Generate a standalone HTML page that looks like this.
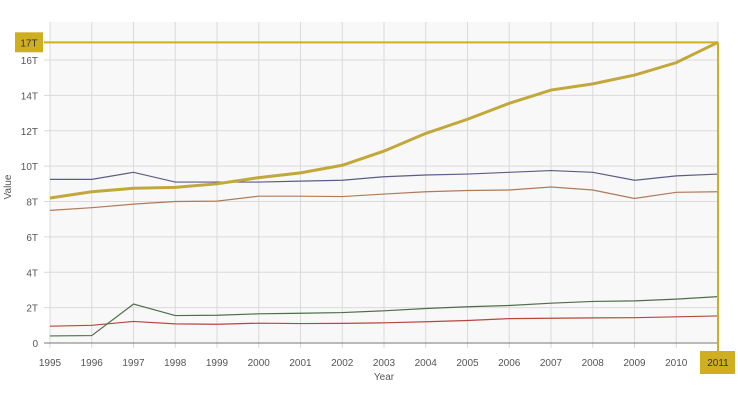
<!DOCTYPE html>
<html><head><meta charset="utf-8"><style>
body{margin:0;background:#fff;font-family:"Liberation Sans",sans-serif}
svg text{font-family:"Liberation Sans",sans-serif;fill:#555;font-size:10px}
</style></head><body>
<svg width="738" height="407">
<g id="g"></g>
</svg>
<script>
const years=[1995,1996,1997,1998,1999,2000,2001,2002,2003,2004,2005,2006,2007,2008,2009,2010,2011];
const yTicks=[0,2,4,6,8,10,12,14,16];
const gold=[8.2,8.55,8.75,8.8,9.0,9.35,9.62,10.05,10.85,11.85,12.65,13.55,14.3,14.65,15.15,15.85,17.0];
const blue=[9.25,9.25,9.65,9.1,9.1,9.1,9.15,9.2,9.4,9.5,9.55,9.65,9.75,9.65,9.2,9.45,9.55];
const brown=[7.5,7.65,7.85,8.0,8.02,8.3,8.3,8.28,8.42,8.55,8.62,8.65,8.82,8.65,8.17,8.52,8.55];
const green=[0.4,0.42,2.2,1.55,1.57,1.65,1.68,1.72,1.82,1.95,2.05,2.12,2.25,2.35,2.38,2.48,2.62];
const red=[0.95,1.0,1.22,1.08,1.06,1.12,1.1,1.11,1.14,1.2,1.27,1.38,1.4,1.42,1.43,1.48,1.53];
const highlightValue=17, highlightYear=2011;
const X0=50,X1=718,Y0=343,Y16=60;
const x=i=>X0+(X1-X0)*i/(years.length-1);
const y=v=>Y0+(Y16-Y0)*v/16;
const g=document.getElementById('g');
const NS='http://www.w3.org/2000/svg';
function mk(t,a,txt){const e=document.createElementNS(NS,t);for(const k in a)e.setAttribute(k,a[k]);if(txt!=null)e.textContent=txt;g.appendChild(e);return e;}
let e=mk('rect',{x:X0,y:22,width:X1-X0,height:Y0-22,fill:'#f8f8f8'});


years.forEach((yr,i)=>{
 e=mk('line',{x1:x(i),x2:x(i),y1:22,y2:Y0+5,stroke:'#dadada'});
 
 
 e=mk('text',{x:x(i),y:366,'text-anchor':'middle'},yr);
 
 
});
yTicks.forEach(v=>{
 e=mk('line',{x1:X0-6,x2:X1,y1:y(v),y2:y(v),stroke:v==0?'#777':'#dadada'});
 
 
 e=mk('text',{x:38,y:y(v)+4,'text-anchor':'end'},v==0?'0':v+'T');
 
 
});
e=mk('text',{x:384,y:380,'text-anchor':'middle','font-size':'11'},'Year');


e=mk('text',{x:11,y:187,'text-anchor':'middle','font-size':'11',transform:'rotate(-90 11 187)'},'Value');


function line(d,c,w,n){const p=d.map((v,i)=>(i?'L':'M')+x(i)+','+y(v)).join('');
 const el=mk('path',{d:p,fill:'none',stroke:c,'stroke-width':w});
 
 }
line(red,'#b5493c',1.2,'series-red');
line(green,'#4e6e4a',1.2,'series-green');
line(brown,'#b07a57',1.2,'series-brown');
line(blue,'#5d5c86',1.2,'series-blue');
line(gold,'#c2a83a',3,'series-gold');
const hc='#cfae1f';
const hi=years.indexOf(highlightYear);
e=mk('line',{x1:44,x2:x(hi),y1:y(highlightValue),y2:y(highlightValue),stroke:hc,'stroke-width':2});


e=mk('line',{x1:x(hi),x2:x(hi),y1:y(highlightValue),y2:352,stroke:hc,'stroke-width':2});


e=mk('rect',{x:15,y:y(highlightValue)-10,width:28,height:20,fill:hc});


e=mk('text',{x:29,y:y(highlightValue)+4,'text-anchor':'middle',style:'fill:#333'},'17T');


e=mk('rect',{x:x(hi)-18,y:351,width:35,height:23,fill:hc});


e=mk('text',{x:x(hi),y:366,'text-anchor':'middle',style:'fill:#333'},highlightYear);


</script>
</body></html>
